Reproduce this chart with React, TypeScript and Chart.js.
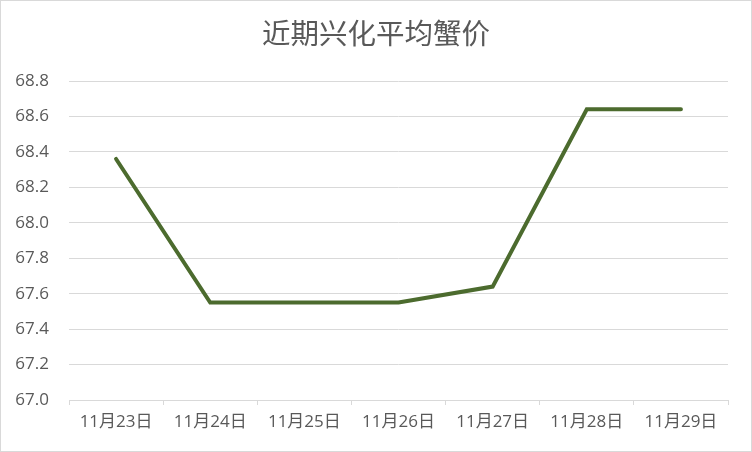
import React, { useEffect, useRef } from "react";
import { Chart, registerables } from "chart.js";

Chart.register(...registerables);

const title = "近期兴化平均蟹价";
const dates = ["11月23日", "11月24日", "11月25日", "11月26日", "11月27日", "11月28日", "11月29日"];
const prices = [68.36, 67.55, 67.55, 67.55, 67.64, 68.64, 68.64];
const yMin = 67.0;
const yMax = 68.8;
const yStep = 0.2;

const FONT = "'Open Sans', 'Noto Sans CJK SC', sans-serif";
const TEXT = "#595959";
const GRID = "#d9d9d9";

// Title centred over the whole canvas, not just the padded layout box.
const centredTitle = {
  id: "centredTitle",
  afterDraw(chart: any) {
    const { ctx, width } = chart;
    ctx.save();
    ctx.fillStyle = TEXT;
    ctx.font = `normal 28.5px ${FONT}`;
    ctx.textAlign = "center";
    ctx.textBaseline = "middle";
    ctx.fillText(title, width / 2, 35);
    ctx.restore();
  },
};

export default function App() {
  const ref = useRef<HTMLCanvasElement | null>(null);

  useEffect(() => {
    document.body.style.margin = "0";
    const canvas = ref.current;
    if (!canvas) return;
    const chart = new Chart(canvas, {
      type: "line",
      data: {
        labels: dates,
        datasets: [
          {
            data: prices,
            borderColor: "#4c6b2e",
            borderWidth: 4,
            pointRadius: 0,
            tension: 0,
            fill: false,
            borderCapStyle: "round",
          },
        ],
      },
      options: {
        animation: false,
        responsive: false,
        layout: { padding: { top: 80, right: 23, bottom: 0, left: 0 } },
        plugins: {
          legend: { display: false },
          tooltip: { enabled: false },
          title: { display: false },
        },
        scales: {
          x: {
            offset: true,
            grid: {
              drawOnChartArea: false,
              drawTicks: true,
              tickLength: 5,
              color: GRID,
              offset: true,
            },
            border: { display: true, color: GRID, width: 1 },
            ticks: {
              color: TEXT,
              font: { family: FONT, size: 17 },
              padding: 7,
              maxRotation: 0,
            },
            afterFit: (s: any) => {
              s.height = 51;
            },
          },
          y: {
            min: yMin,
            max: yMax,
            grid: { color: GRID, drawTicks: false, lineWidth: 1 },
            border: { display: false },
            ticks: {
              stepSize: yStep,
              color: TEXT,
              font: { family: FONT, size: 17 },
              padding: 20,
              callback: (v: any) => Number(v).toFixed(1),
            },
            afterFit: (s: any) => {
              s.width = 68;
            },
          },
        },
      },
      plugins: [centredTitle],
    });
    return () => chart.destroy();
  }, []);

  return (
    <div
      style={{
        position: "fixed",
        left: 0,
        top: 0,
        width: 752,
        height: 452,
        boxSizing: "border-box",
        border: "1px solid #d9d9d9",
        background: "#fff",
      }}
    >
      <canvas ref={ref} width={750} height={450} style={{ display: "block" }} />
    </div>
  );
}
